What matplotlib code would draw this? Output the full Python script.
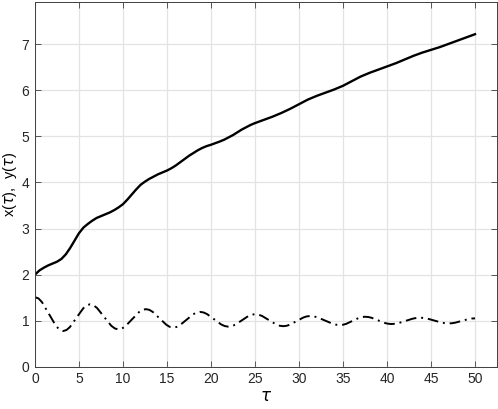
import matplotlib
matplotlib.use("Agg")
import matplotlib.pyplot as plt

# x(tau) - solid line
tau_x = [0, 0.5, 1, 1.5, 2, 2.5, 3, 3.5, 4, 4.5, 5, 5.5, 6, 6.5, 7, 7.5, 8, 8.5,
         9, 9.5, 10, 10.5, 11, 11.5, 12, 12.5, 13, 13.5, 14, 14.5, 15, 15.5,
         16, 16.5, 17, 17.5, 18, 18.5, 19, 19.5, 20, 20.5, 21, 21.5, 22, 22.5,
         23, 23.5, 24, 24.5, 25, 25.5, 26, 26.5, 27, 27.5, 28, 28.5, 29, 29.5,
         30, 30.5, 31, 31.5, 32, 32.5, 33, 33.5, 34, 34.5, 35, 35.5, 36, 36.5,
         37, 37.5, 38, 38.5, 39, 39.5, 40, 41, 42, 43, 44, 45, 46, 47, 48, 49, 50]
x_vals = [2.00, 2.09, 2.15, 2.20, 2.24, 2.28, 2.34, 2.44, 2.58, 2.74, 2.90,
          3.02, 3.10, 3.17, 3.23, 3.27, 3.31, 3.35, 3.40, 3.46, 3.53, 3.63,
          3.74, 3.85, 3.95, 4.02, 4.08, 4.13, 4.18, 4.22, 4.26, 4.31, 4.37,
          4.44, 4.51, 4.58, 4.64, 4.70, 4.75, 4.79, 4.82, 4.855, 4.89, 4.93,
          4.98, 5.03, 5.09, 5.15, 5.20, 5.25, 5.29, 5.325, 5.36, 5.395, 5.43,
          5.47, 5.51, 5.555, 5.60, 5.65, 5.70, 5.75, 5.80, 5.84, 5.88, 5.915,
          5.95, 5.985, 6.02, 6.06, 6.10, 6.15, 6.20, 6.25, 6.30, 6.34, 6.38,
          6.415, 6.45, 6.485, 6.52, 6.59, 6.67, 6.75, 6.82, 6.88, 6.94, 7.01,
          7.08, 7.15, 7.22]

# y(tau) - dash-dot line
tau_y = [0, 0.4, 0.8, 1.6, 2.4, 2.8, 3.2, 3.58, 3.96, 4.72, 5.49, 5.87, 6.25,
         6.65, 7.05, 7.86, 8.66, 9.07, 9.47, 9.86, 10.25, 11.03, 11.82, 12.21,
         12.6, 12.99, 13.38, 14.15, 14.93, 15.31, 15.7, 16.08, 16.46, 17.22,
         17.99, 18.37, 18.75, 19.15, 19.55, 20.36, 21.16, 21.57, 21.97, 22.35,
         22.73, 23.49, 24.24, 24.62, 25.0, 25.4, 25.8, 26.6, 27.4, 27.8, 28.2,
         28.58, 28.96, 29.73, 30.49, 30.87, 31.25, 31.68, 32.1, 32.96, 33.81,
         34.23, 34.66, 35.02, 35.37, 36.08, 36.79, 37.15, 37.5, 37.88, 38.25,
         39.0, 39.75, 40.12, 40.5, 40.91, 41.31, 42.13, 42.94, 43.34, 43.75,
         44.16, 44.56, 45.38, 46.19, 46.59, 47.0, 47.38, 47.75, 48.5, 49.25,
         49.62, 50.0]
y_vals = [1.51, 1.482, 1.40, 1.14, 0.88, 0.803, 0.775, 0.797, 0.86, 1.065,
          1.27, 1.333, 1.355, 1.334, 1.275, 1.08, 0.89, 0.831, 0.81, 0.827,
          0.874, 1.03, 1.186, 1.233, 1.25, 1.235, 1.19, 1.05, 0.91, 0.865,
          0.85, 0.863, 0.90, 1.02, 1.14, 1.177, 1.19, 1.178, 1.143, 1.03,
          0.917, 0.882, 0.87, 0.88, 0.91, 1.005, 1.10, 1.13, 1.14, 1.13, 1.102,
          1.01, 0.918, 0.89, 0.88, 0.888, 0.912, 0.99, 1.068, 1.092, 1.10,
          1.093, 1.072, 1.0025, 0.933, 0.912, 0.905, 0.912, 0.931, 0.995,
          1.059, 1.078, 1.085, 1.079, 1.062, 1.006, 0.95, 0.933, 0.927, 0.932,
          0.947, 0.996, 1.044, 1.059, 1.064, 1.059, 1.046, 1.002, 0.958, 0.945,
          0.94, 0.944, 0.956, 0.995, 1.034, 1.046, 1.05]

x_ticks = [0, 5, 10, 15, 20, 25, 30, 35, 40, 45, 50]
y_ticks = [0, 1, 2, 3, 4, 5, 6, 7]

plt.rcParams['font.family'] = ['Liberation Sans', 'DejaVu Sans']

fig = plt.figure(figsize=(4.98, 4.09), dpi=100)
ax = fig.add_axes([0.0703, 0.1034, 0.9277, 0.8929])

ax.plot(tau_x, x_vals, color='black', linewidth=1.7, solid_joinstyle='round')
ax.plot(tau_y, y_vals, color='black', linewidth=1.4, linestyle=(0, (5.5, 2.5, 1, 2.5)))

ax.set_xlim(0, 52.5)
ax.set_ylim(0, 7.93)
ax.set_xticks(x_ticks)
ax.set_yticks(y_ticks)
ax.grid(True, color='#e3e3e3', linewidth=0.9)
ax.set_axisbelow(True)

ax.tick_params(direction='in', length=4, width=0.6, color='#404040',
               top=True, right=True, labelsize=10, labelcolor='#262626', pad=4)
for s in ax.spines.values():
    s.set_color('#404040')
    s.set_linewidth(0.7)

ax.set_xlabel(r'$\tau$', fontsize=12, labelpad=2)
ax.set_ylabel(r'x($\tau$),  y($\tau$)', fontsize=10.5, va='center')
ax.yaxis.set_label_coords(-0.054, 0.5)

plt.savefig('out.png', dpi=100)
plt.close()
